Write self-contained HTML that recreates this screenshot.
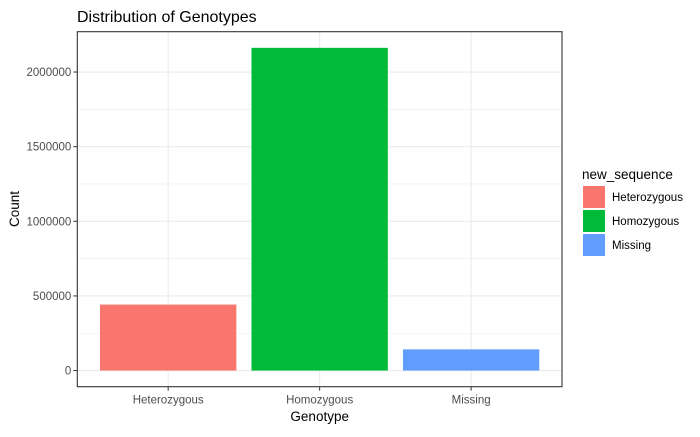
<!DOCTYPE html>
<html><head><meta charset="utf-8"><style>
body{margin:0;background:#fff}
svg{font-family:"Liberation Sans",Arial,sans-serif}
</style></head><body>
<svg width="700" height="432" xmlns="http://www.w3.org/2000/svg">
<g id="grid"></g><g id="bars"></g><g id="axes"></g>
<text x="77" y="22" font-size="16" fill="#000">Distribution of Genotypes</text>
<text x="319.7" y="421" font-size="13.5" text-anchor="middle">Genotype</text>
<text transform="translate(19,209) rotate(-90)" font-size="13.5" text-anchor="middle">Count</text>
<g id="legend">
<text x="582" y="179" font-size="13.5">new_sequence</text>
</g>
</svg>
<script>
const categories=["Heterozygous","Homozygous","Missing"];
const counts=[442000,2162000,142000];
const colors=["#F8766D","#00BA38","#619CFF"];
const yTicks=[0,500000,1000000,1500000,2000000];
const yMinor=[250000,750000,1250000,1750000];
const L=77.3,R=562,T=31.7,B=386.7;
const ns="http://www.w3.org/2000/svg";
const mx=Math.max(...counts),lo=-0.05*mx,hi=mx*1.05;
const y=v=>B-(v-lo)/(hi-lo)*(B-T);
const step=(R-L)/(categories.length-1+1.2);
const x=i=>L+(0.6+i)*step;
function mk(p,tag,attrs){const e=document.createElementNS(ns,tag);for(const k in attrs)e.setAttribute(k,attrs[k]);document.getElementById(p).appendChild(e);return e;}
yMinor.forEach(v=>{const e=mk("grid","line",{x1:L,x2:R,y1:y(v),y2:y(v),stroke:"#ebebeb","stroke-width":0.6});

});
yTicks.forEach(v=>{const e=mk("grid","line",{x1:L,x2:R,y1:y(v),y2:y(v),stroke:"#ebebeb","stroke-width":1.1});


const t=mk("axes","line",{x1:L-4,x2:L,y1:y(v),y2:y(v),stroke:"#333"});


const l=mk("axes","text",{x:L-6,y:y(v)+4,"font-size":11.5,"text-anchor":"end",fill:"#4d4d4d"});l.textContent=v;

});
categories.forEach((c,i)=>{const g=mk("grid","line",{x1:x(i),x2:x(i),y1:T,y2:B,stroke:"#ebebeb","stroke-width":1.1});


const w=step*0.9;
const b=mk("bars","rect",{x:x(i)-w/2,y:y(counts[i]),width:w,height:y(0)-y(counts[i]),fill:colors[i]});


const t=mk("axes","line",{x1:x(i),x2:x(i),y1:B,y2:B+4,stroke:"#333"});


const l=mk("axes","text",{x:x(i),y:B+17,"font-size":11.5,"text-anchor":"middle",fill:"#4d4d4d"});l.textContent=c;


const k=mk("legend","rect",{x:583,y:186+i*24,width:22,height:22,fill:colors[i]});


const lt=mk("legend","text",{x:612,y:201+i*24,"font-size":11.5,fill:"#000"});lt.textContent=c;

});
const f=mk("axes","rect",{x:L,y:T,width:R-L,height:B-T,fill:"none",stroke:"#333","stroke-width":1.1});


</script>
</body></html>
